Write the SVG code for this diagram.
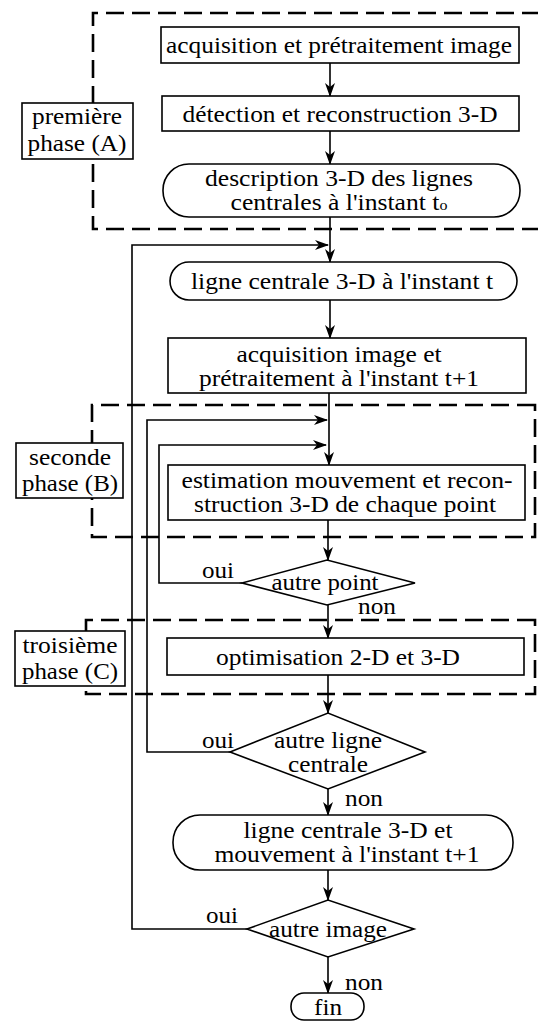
<svg xmlns="http://www.w3.org/2000/svg" width="538" height="1021" viewBox="0 0 538 1021">
<defs>
<marker id="ah" viewBox="0 0 14 10" refX="13" refY="5" markerWidth="14" markerHeight="10" markerUnits="userSpaceOnUse" orient="auto">
<path d="M0,0 L14,5 L0,10 L4,5 Z" fill="#000"/>
</marker>
</defs>
<style>
.n{fill:#fff;stroke:#000;stroke-width:1.6}
.ph{fill:none;stroke:#000;stroke-width:2.6;stroke-dasharray:18 8}
.c{fill:none;stroke:#000;stroke-width:1.6}
.a{marker-end:url(#ah)}
text{font-family:"Liberation Serif","Times New Roman",serif;font-size:24px;fill:#000;text-anchor:middle}
.l{text-anchor:start}
</style>
<rect width="538" height="1021" fill="#fff"/>
<g id="phases">
<path class="ph" d="M540,13 H93 V229 H540"/>
<path class="ph" d="M535,405 H92 V537 H535 Z"/>
<path class="ph" d="M535,620 H86 V694 H535 Z"/>
</g>
<g id="connectors">
<path class="c a" d="M330,63 V96"/>
<path class="c a" d="M330,131 V164"/>
<path class="c a" d="M330,217 V262"/>
<path class="c a" d="M247,929 H132 V245 H328"/>
<path class="c a" d="M330,300 V338"/>
<path class="c a" d="M329,393 V465"/>
<path class="c a" d="M230,752 H147 V420 H327"/>
<path class="c a" d="M242,583 H159 V445 H326"/>
<path class="c a" d="M328,520 V560"/>
<path class="c a" d="M328,605 V638"/>
<path class="c a" d="M328,675 V713"/>
<path class="c a" d="M328,789 V815"/>
<path class="c a" d="M328,870 V900"/>
<path class="c a" d="M328,957 V993"/>
<text class="l" x="202" y="578" textLength="32" lengthAdjust="spacingAndGlyphs">oui</text>
<text class="l" x="358" y="614" textLength="38" lengthAdjust="spacingAndGlyphs">non</text>
<text class="l" x="202" y="748" textLength="32" lengthAdjust="spacingAndGlyphs">oui</text>
<text class="l" x="345" y="806" textLength="38" lengthAdjust="spacingAndGlyphs">non</text>
<text class="l" x="206" y="923" textLength="32" lengthAdjust="spacingAndGlyphs">oui</text>
<text class="l" x="345" y="990" textLength="38" lengthAdjust="spacingAndGlyphs">non</text>
</g>
<g id="labelA"><rect class="n" x="22" y="103" width="111" height="56"/><text x="77" y="124" textLength="90" lengthAdjust="spacingAndGlyphs">première</text><text x="77" y="151" textLength="99" lengthAdjust="spacingAndGlyphs">phase (A)</text></g>
<g id="labelB"><rect class="n" x="16" y="443" width="107" height="55"/><text x="70" y="465" textLength="82" lengthAdjust="spacingAndGlyphs">seconde</text><text x="70" y="491" textLength="96" lengthAdjust="spacingAndGlyphs">phase (B)</text></g>
<g id="labelC"><rect class="n" x="15" y="631" width="110" height="55"/><text x="70" y="653" textLength="95" lengthAdjust="spacingAndGlyphs">troisième</text><text x="70" y="679" textLength="96" lengthAdjust="spacingAndGlyphs">phase (C)</text></g>
<g id="n1"><rect class="n" x="161" y="27" width="358" height="36"/><text x="339" y="53" textLength="346" lengthAdjust="spacingAndGlyphs">acquisition et prétraitement image</text></g>
<g id="n2"><rect class="n" x="162" y="96" width="357" height="35"/><text x="340" y="122" textLength="315" lengthAdjust="spacingAndGlyphs">détection et reconstruction 3-D</text></g>
<g id="n3"><rect class="n" x="163" y="164" width="357" height="53" rx="26"/><text x="339" y="186" textLength="268" lengthAdjust="spacingAndGlyphs">description 3-D des lignes</text><text x="339" y="210" textLength="217" lengthAdjust="spacingAndGlyphs">centrales à l'instant t<tspan font-size="15">o</tspan></text></g>
<g id="n4"><rect class="n" x="170" y="262" width="347" height="38" rx="19"/><text x="342" y="289" textLength="302" lengthAdjust="spacingAndGlyphs">ligne centrale 3-D à l'instant t</text></g>
<g id="n5"><rect class="n" x="168" y="338" width="358" height="55"/><text x="339" y="362" textLength="205" lengthAdjust="spacingAndGlyphs">acquisition image et</text><text x="339" y="386" textLength="280" lengthAdjust="spacingAndGlyphs">prétraitement à l'instant t+1</text></g>
<g id="n6"><rect class="n" x="168" y="465" width="357" height="55"/><text x="347" y="488" textLength="331" lengthAdjust="spacingAndGlyphs">estimation mouvement et recon-</text><text x="345" y="512" textLength="302" lengthAdjust="spacingAndGlyphs">struction 3-D de chaque point</text></g>
<g id="d1"><path class="n" d="M242,583 L327,560 L415,583 L327,605 Z"/><text x="325" y="590" textLength="107" lengthAdjust="spacingAndGlyphs">autre point</text></g>
<g id="n7"><rect class="n" x="167" y="638" width="357" height="37"/><text x="338" y="665" textLength="244" lengthAdjust="spacingAndGlyphs">optimisation 2-D et 3-D</text></g>
<g id="d2"><path class="n" d="M230,752 L328,713 L425,752 L328,789 Z"/><text x="328" y="748" textLength="108" lengthAdjust="spacingAndGlyphs">autre ligne</text><text x="328" y="772" textLength="80" lengthAdjust="spacingAndGlyphs">centrale</text></g>
<g id="n8"><rect class="n" x="173" y="815" width="340" height="55" rx="27"/><text x="348" y="838" textLength="209" lengthAdjust="spacingAndGlyphs">ligne centrale 3-D et</text><text x="347" y="862" textLength="265" lengthAdjust="spacingAndGlyphs">mouvement à l'instant t+1</text></g>
<g id="d3"><path class="n" d="M247,929 L328,900 L414,929 L328,957 Z"/><text x="328" y="937" textLength="118" lengthAdjust="spacingAndGlyphs">autre image</text></g>
<g id="fin"><rect class="n" x="291" y="993" width="73" height="27" rx="13"/><text x="328" y="1015" textLength="28" lengthAdjust="spacingAndGlyphs">fin</text></g>
</svg>
